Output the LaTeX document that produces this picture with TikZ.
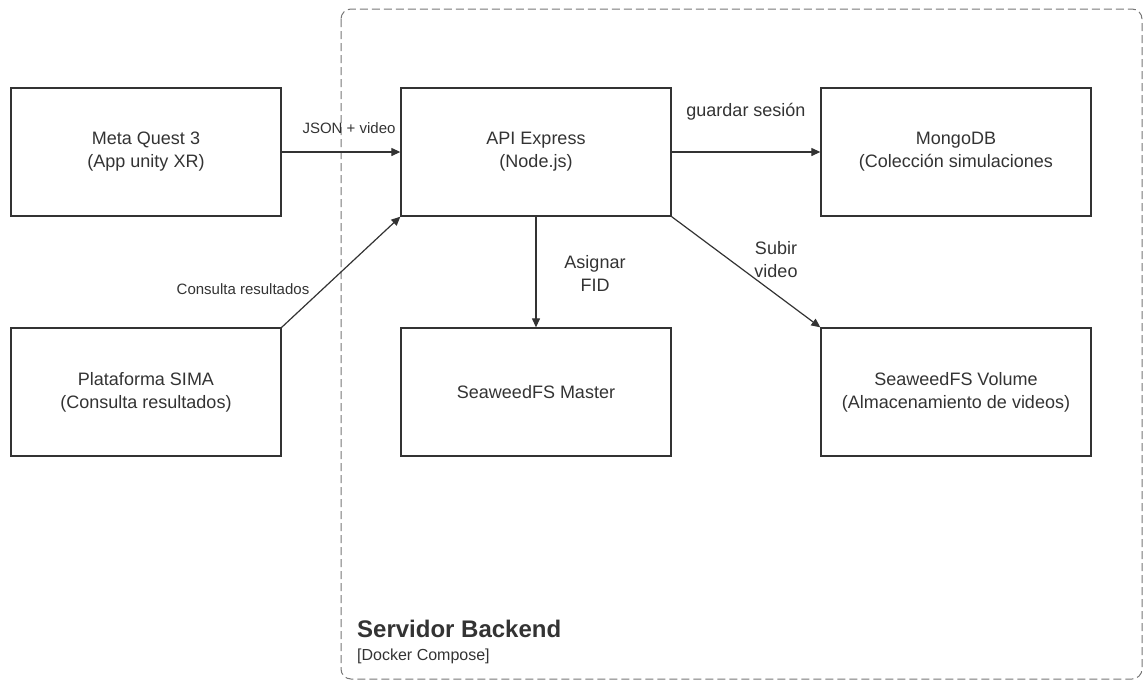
\documentclass[tikz,border=0pt]{standalone}
\usepackage{fontspec}
\setmainfont{Liberation Sans}
\usetikzlibrary{arrows.meta}
\definecolor{ink}{HTML}{333333}
\definecolor{dashgray}{HTML}{777777}
\begin{document}
\begin{tikzpicture}[x=1pt,y=-1pt,
  box/.style={draw=ink,line width=1.3pt,minimum width=270pt,minimum height=128pt,align=center,font=\fontsize{18}{23}\selectfont,text=ink,inner sep=0pt},
  conn/.style={draw=ink,line width=1.2pt,-{Triangle[length=9pt,width=8pt]}},
  lbl/.style={text=ink,align=center,inner sep=0pt},
  biglbl/.style={lbl,font=\fontsize{18}{23}\selectfont},
  smalllbl/.style={lbl,font=\fontsize{15}{18}\selectfont}]
\useasboundingbox (0,0) rectangle (1146,681);
\draw[draw=dashgray,line width=1pt,dash pattern=on 8pt off 4pt,rounded corners=10pt] (341,9) rectangle (1142,679);
\node[anchor=base west,inner sep=0pt,text=ink] (title) at (357,637) {\fontsize{24}{28}\selectfont\bfseries Servidor Backend};
\node[anchor=base west,inner sep=0pt,text=ink] (sub) at (357,660) {\fontsize{16}{19}\selectfont [Docker Compose]};

\node[box] (meta) at (146,152) {Meta Quest 3\\(App unity XR)};
\node[box] (api) at (536,152) {API Express\\(Node.js)};
\node[box] (mongo) at (956,152) {MongoDB\\(Colección simulaciones};
\node[box] (sima) at (146,392) {Plataforma SIMA\\(Consulta resultados)};
\node[box] (master) at (536,392) {SeaweedFS Master};
\node[box] (volume) at (956,392) {SeaweedFS Volume\\(Almacenamiento de videos)};

\draw[conn] (meta.east) -- (api.west);
\node[smalllbl] (l1) at (349,128) {JSON + video};
\draw[conn] (sima.north east) -- (api.south west);
\node[smalllbl] (l2) at (243,289) {Consulta resultados};
\draw[conn] (api.south) -- (master.north);
\node[biglbl] (l3) at (595,273) {Asignar\\FID};
\draw[conn] (api.east) -- (mongo.west);
\node[biglbl] (l4) at (746,112) {guardar sesión};
\draw[conn] (api.south east) -- (volume.north west);
\node[biglbl] (l5) at (776,260) {Subir\\video};
\end{tikzpicture}
\end{document}
